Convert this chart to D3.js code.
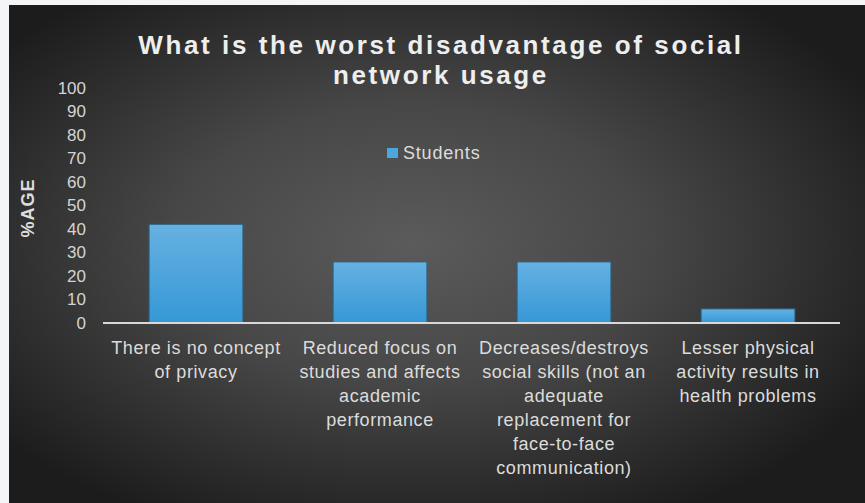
<!DOCTYPE html>
<html>
<head>
<meta charset="utf-8">
<script src="https://cdn.jsdelivr.net/npm/d3@7/dist/d3.min.js"></script>
<style>
  html, body { margin: 0; padding: 0; background: #f4f5f7; }
  svg { display: block; }
</style>
</head>
<body>
<svg id="chart" width="865" height="503"></svg>
<script>
// Survey answers: share of students naming each disadvantage
const categories = [
  "There is no concept of privacy",
  "Reduced focus on studies and affects academic performance",
  "Decreases/destroys social skills (not an adequate replacement for face-to-face communication)",
  "Lesser physical activity results in health problems"
];
const categoryLines = [
  ["There is no concept", "of privacy"],
  ["Reduced focus on", "studies and affects", "academic", "performance"],
  ["Decreases/destroys", "social skills (not an", "adequate", "replacement for", "face-to-face", "communication)"],
  ["Lesser physical", "activity results in", "health problems"]
];
const studentValues = [42, 26, 26, 6];
const yTicks = [0, 10, 20, 30, 40, 50, 60, 70, 80, 90, 100];
const seriesName = "Students";
const titleLines = ["What is the worst disadvantage of social", "network usage"];
const yAxisTitle = "%AGE";

const svg = d3.select("#chart");
const W = 865, H = 503;
const defs = svg.append("defs");

// Dark slide background with a soft lighter centre
const bg = defs.append("radialGradient").attr("id", "bgGrad")
  .attr("cx", "47%").attr("cy", "48%").attr("r", "62%");
bg.append("stop").attr("offset", "0%").attr("stop-color", "#5b5b5b");
bg.append("stop").attr("offset", "45%").attr("stop-color", "#474747");
bg.append("stop").attr("offset", "100%").attr("stop-color", "#1c1c1c");

const barGrad = defs.append("linearGradient").attr("id", "barGrad")
  .attr("x1", 0).attr("y1", 0).attr("x2", 0).attr("y2", 1);
barGrad.append("stop").attr("offset", "0%").attr("stop-color", "#66b1e2");
barGrad.append("stop").attr("offset", "100%").attr("stop-color", "#3598d6");

svg.append("rect").attr("x", 9).attr("y", 5).attr("width", W - 9).attr("height", H - 5)
  .attr("fill", "url(#bgGrad)");

// Scales
const plot = { left: 104, right: 840, top: 88, bottom: 323 };
const x = d3.scaleBand()
  .domain(categories)
  .range([plot.left, plot.right])
  .paddingInner(0.49)
  .paddingOuter(0.245);
const y = d3.scaleLinear().domain([0, 100]).range([plot.bottom, plot.top]);

// Title
const title = svg.append("text")
  .attr("text-anchor", "middle")
  .attr("font-family", "Liberation Sans, Arial, sans-serif")
  .attr("font-weight", "bold")
  .attr("font-size", 26)
  .attr("letter-spacing", 2.6)
  .attr("fill", "#eeeeee");
titleLines.forEach((t, i) => {
  title.append("tspan").attr("x", 441).attr("y", 54 + i * 30).text(t);
});

// Y axis (labels only, no line)
const yAxis = svg.append("g")
  .attr("transform", `translate(${plot.left - 18},0)`)
  .call(d3.axisLeft(y).tickValues(yTicks).tickSize(0).tickPadding(0));
yAxis.select(".domain").remove();
yAxis.selectAll("text")
  .attr("font-family", "Liberation Sans, Arial, sans-serif")
  .attr("font-size", 17)
  .attr("fill", "#d4d4d4");

svg.append("text")
  .attr("transform", `translate(34,208) rotate(-90)`)
  .attr("text-anchor", "middle")
  .attr("font-family", "Liberation Sans, Arial, sans-serif")
  .attr("font-weight", "bold")
  .attr("font-size", 18)
  .attr("letter-spacing", 1)
  .attr("fill", "#dddddd")
  .text(yAxisTitle);

// Bars
svg.append("g").selectAll("rect")
  .data(studentValues)
  .join("rect")
  .attr("x", (d, i) => x(categories[i]))
  .attr("y", d => y(d))
  .attr("width", x.bandwidth())
  .attr("height", d => y(0) - y(d))
  .attr("fill", "url(#barGrad)")
  .attr("stroke", "#2a5f80")
  .attr("stroke-width", 1);

// Baseline
svg.append("line")
  .attr("x1", plot.left - 1).attr("x2", plot.right)
  .attr("y1", y(0)).attr("y2", y(0))
  .attr("stroke", "#d8d8d8").attr("stroke-width", 2);

// Category labels
const catG = svg.append("g")
  .attr("font-family", "Liberation Sans, Arial, sans-serif")
  .attr("font-size", 18)
  .attr("letter-spacing", 0.6)
  .attr("fill", "#dcdcdc")
  .attr("text-anchor", "middle");
categories.forEach((c, i) => {
  const cx = x(c) + x.bandwidth() / 2;
  const t = catG.append("text");
  categoryLines[i].forEach((line, j) => {
    t.append("tspan").attr("x", cx).attr("y", 354 + j * 24).text(line);
  });
});

// Legend
const lg = svg.append("g").attr("transform", "translate(387,148)");
lg.append("rect").attr("width", 11).attr("height", 10).attr("fill", "#4aa8de");
lg.append("text").attr("x", 16).attr("y", 11)
  .attr("font-family", "Liberation Sans, Arial, sans-serif")
  .attr("font-size", 18)
  .attr("letter-spacing", 0.8)
  .attr("fill", "#dcdcdc")
  .text(seriesName);
</script>
</body>
</html>
